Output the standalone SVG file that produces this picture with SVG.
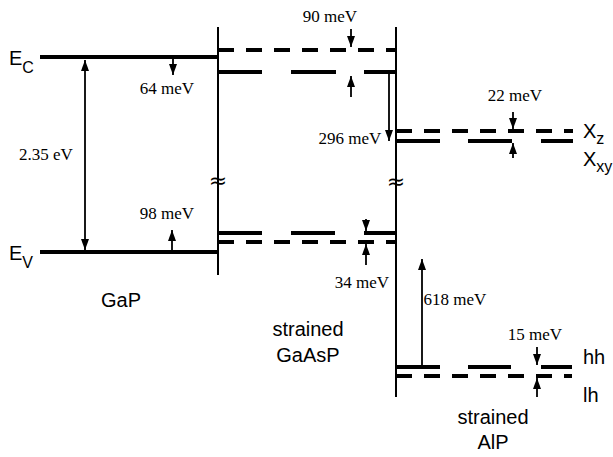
<svg xmlns="http://www.w3.org/2000/svg" width="613" height="457" viewBox="0 0 613 457">
<style>
.lvl{stroke:#000;stroke-width:4;fill:none}
.dash{stroke:#000;stroke-width:4;fill:none;stroke-dasharray:16 12}
.wall{stroke:#000;stroke-width:2;fill:none}
.arr{stroke:#000;stroke-width:1.8;fill:none}
.val{font-family:"Liberation Serif","Times New Roman",serif;font-size:17px;fill:#000}
.lab{font-family:"Liberation Sans",Arial,sans-serif;font-size:20px;fill:#000}
.brk{font-family:"DejaVu Sans",sans-serif;font-size:22px;fill:#000}
</style>
<defs>
<marker id="ah" viewBox="0 0 11 8" refX="11" refY="4" markerWidth="11" markerHeight="8" markerUnits="userSpaceOnUse" orient="auto">
<path d="M0,0 L11,4 L0,8 Z" fill="#000"/>
</marker>
<marker id="as" viewBox="0 0 11 8" refX="0" refY="4" markerWidth="11" markerHeight="8" markerUnits="userSpaceOnUse" orient="auto">
<path d="M11,0 L0,4 L11,8 Z" fill="#000"/>
</marker>
</defs>
<g id="gap">
<line class="lvl" x1="40" y1="57" x2="218" y2="57"/>
<line class="lvl" x1="40" y1="252" x2="218" y2="252"/>
<text class="lab" x="9" y="65">E<tspan font-size="16" dy="8">C</tspan></text>
<text class="lab" x="9" y="260">E<tspan font-size="16" dy="8">V</tspan></text>
<text class="lab" x="121" y="307" text-anchor="middle">GaP</text>
</g>
<g id="gaasp">
<line class="wall" x1="218" y1="27" x2="218" y2="275"/>
<line class="dash" x1="218" y1="50" x2="396" y2="50"/>
<path class="lvl" d="M218,72H262M291,72H336M364,72H396"/>
<path class="lvl" d="M218,233H262M291,233H335M364,233H396"/>
<line class="dash" x1="218" y1="242" x2="396" y2="242"/>
<text class="brk" x="218" y="188" text-anchor="middle">≈</text>
<text class="lab" x="308" y="336" text-anchor="middle">strained</text>
<text class="lab" x="308" y="362" text-anchor="middle">GaAsP</text>
</g>
<g id="alp">
<line class="wall" x1="396" y1="27" x2="396" y2="397"/>
<line class="dash" x1="396" y1="131" x2="573" y2="131"/>
<path class="lvl" d="M396,141H440M468,141H512M541,141H573"/>
<path class="lvl" d="M396,367H440M468,367H511M541,367H572"/>
<line class="dash" x1="396" y1="376" x2="572" y2="376"/>
<text class="brk" x="396" y="189" text-anchor="middle">≈</text>
<text class="lab" x="583" y="138">X<tspan font-size="16" dy="6">z</tspan></text>
<text class="lab" x="583" y="166">X<tspan font-size="16" dy="6">xy</tspan></text>
<text class="lab" x="583" y="364">hh</text>
<text class="lab" x="583" y="402">lh</text>
<text class="lab" x="493" y="424" text-anchor="middle">strained</text>
<text class="lab" x="493" y="449" text-anchor="middle">AlP</text>
</g>
<g id="connectors">
<line class="arr" x1="85" y1="60" x2="85" y2="250" marker-start="url(#as)" marker-end="url(#ah)"/>
<line class="arr" x1="173" y1="59" x2="173" y2="75" marker-end="url(#ah)"/>
<line class="arr" x1="172" y1="250" x2="172" y2="230" marker-end="url(#ah)"/>
<line class="arr" x1="351" y1="29" x2="351" y2="47" marker-end="url(#ah)"/>
<line class="arr" x1="351" y1="97" x2="351" y2="76" marker-end="url(#ah)"/>
<line class="arr" x1="389" y1="73" x2="389" y2="141" marker-end="url(#ah)"/>
<line class="arr" x1="513" y1="112" x2="513" y2="129" marker-end="url(#ah)"/>
<line class="arr" x1="513" y1="158" x2="513" y2="143" marker-end="url(#ah)"/>
<line class="arr" x1="366" y1="219" x2="366" y2="231" marker-end="url(#ah)"/>
<line class="arr" x1="366" y1="265" x2="366" y2="244" marker-end="url(#ah)"/>
<line class="arr" x1="422" y1="365" x2="422" y2="259" marker-end="url(#ah)"/>
<line class="arr" x1="537" y1="347" x2="537" y2="365" marker-end="url(#ah)"/>
<line class="arr" x1="537" y1="397" x2="537" y2="378" marker-end="url(#ah)"/>
</g>
<g id="labels">
<text class="val" x="330" y="22" text-anchor="middle">90 meV</text>
<text class="val" x="167" y="94" text-anchor="middle">64 meV</text>
<text class="val" x="350" y="144" text-anchor="middle">296 meV</text>
<text class="val" x="515" y="101" text-anchor="middle">22 meV</text>
<text class="val" x="46" y="160" text-anchor="middle">2.35 eV</text>
<text class="val" x="167" y="219" text-anchor="middle">98 meV</text>
<text class="val" x="362" y="288" text-anchor="middle">34 meV</text>
<text class="val" x="455" y="305" text-anchor="middle">618 meV</text>
<text class="val" x="535" y="340" text-anchor="middle">15 meV</text>
</g>
</svg>
